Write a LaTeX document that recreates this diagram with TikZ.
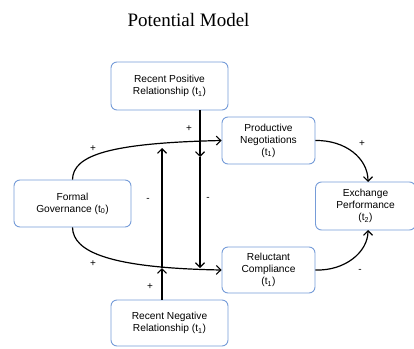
\documentclass[tikz,border=0pt]{standalone}
\usepackage{fontspec}
\setmainfont{Liberation Serif}
\setsansfont{Liberation Sans}
\usetikzlibrary{arrows.meta}
\definecolor{boxblue}{RGB}{118,156,216}
\tikzset{
  varbox/.style={draw=boxblue, line width=0.9pt, rounded corners=6pt, fill=white,
    inner sep=0pt, align=center, font=\sffamily\fontsize{10.2}{12}\selectfont},
  arr/.style={line width=1.2pt, -{Straight Barb[length=4.5pt,width=9pt,line width=1.1pt]}},
  plain/.style={line width=1.2pt},
  sign/.style={font=\sffamily\fontsize{10}{12}\selectfont, inner sep=0pt}
}
\begin{document}
\begin{tikzpicture}[x=1pt,y=-1pt]
\useasboundingbox (0,0) rectangle (414,348);

% title
\node[font=\fontsize{19}{22}\selectfont, anchor=base] (title) at (188.5,26) {Potential Model};

% variables
\node[varbox, minimum width=117pt, minimum height=48pt] (rp) at (169.5,86) {Recent Positive\\Relationship (t\textsubscript{1})};
\node[varbox, minimum width=93pt, minimum height=47pt] (pn) at (268.5,140.5) {Productive\\Negotiations\\(t\textsubscript{1})};
\node[varbox, minimum width=117pt, minimum height=47pt] (fg) at (72.5,203.5) {Formal\\Governance (t\textsubscript{0})};
\node[varbox, minimum width=100pt, minimum height=48pt] (ep) at (365.5,206) {Exchange\\Performance\\(t\textsubscript{2})};
\node[varbox, minimum width=93pt, minimum height=46pt] (rc) at (268.5,270) {Reluctant\\Compliance\\(t\textsubscript{1})};
\node[varbox, minimum width=117pt, minimum height=46pt] (rn) at (169.5,323) {Recent Negative\\Relationship (t\textsubscript{1})};

% moderating points on the two curved paths
\coordinate (pt) at (200,157);
\coordinate (pb) at (200,268);
\coordinate (nb) at (162,268);
\coordinate (nt) at (162,148);

% direct effects of formal governance
\draw[arr] (fg.north) .. controls (73,155) and (110,143) .. (pn.west);
\draw[arr] (fg.south) .. controls (73,252) and (110,268) .. (rc.west);

% effects on exchange performance
\draw[arr] (pn.east) .. controls (345,140) and (368,158) .. (368,182);
\draw[arr] (rc.east) .. controls (345,271) and (368,252) .. (368,230);

% moderators
\draw[arr] (rp.south -| pt) -- (pt);
\draw[arr] (pt) -- (pb);
\draw[arr] (rn.north -| nb) -- (nb);
\draw[arr] (nb) -- (nt);

% signs
\node[sign] (s1) at (93,149) {+};
\node[sign] (s2) at (189,129) {+};
\node[sign] (s3) at (148,200) {-};
\node[sign] (s4) at (208,199) {-};
\node[sign] (s5) at (362,144) {+};
\node[sign] (s6) at (93,264) {+};
\node[sign] (s7) at (150,287) {+};
\node[sign] (s8) at (360,271) {-};
\end{tikzpicture}
\end{document}
